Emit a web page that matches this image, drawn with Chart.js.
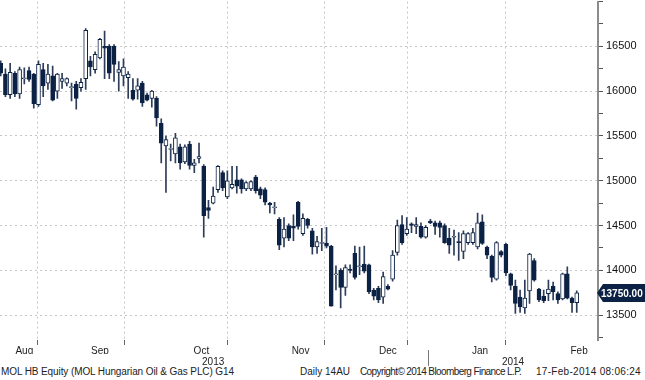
<!DOCTYPE html>
<html><head><meta charset="utf-8">
<script src="https://cdn.jsdelivr.net/npm/chart.js@4/dist/chart.umd.min.js"></script>
<style>
html,body{margin:0;padding:0;background:#fff;width:645px;height:380px;overflow:hidden}
#wrap{position:absolute;left:0;top:-8px;width:645px;height:374px}
#foot{position:absolute;left:0;top:366px;width:645px;height:14px;font:10px "Liberation Sans",Arial,sans-serif;color:#222;white-space:nowrap}
#foot span{position:absolute;top:0}
</style></head><body>
<div id="wrap"><canvas id="c"></canvas></div>
<div id="foot"><span style="left:1px;letter-spacing:-0.1px">MOL HB Equity (MOL Hungarian Oil &amp; Gas PLC) G14</span><span style="left:300px">Daily 14AU</span><span style="left:360px;letter-spacing:-0.6px">Copyright© 2014 Bloomberg Finance L.P.</span><span style="left:536px;letter-spacing:0.3px">17-Feb-2014 08:06:24</span></div>
<script>
// ---- data (daily OHLC, MOL HB Equity, mid-Aug 2013 .. 14-Feb-2014) ----
const opens = [16310,16190,15960,16200,15970,16140,16230,16190,15850,16240,
16090,16170,16000,16110,16090,16040,16080,16040,16140,16340,
16240,16370,16500,16500,16500,16210,16170,16150,16010,16010,
16090,15960,15920,15920,15640,15390,15350,15300,15380,15210,
15410,15170,15250,15160,14700,14750,14900,15090,14820,14920,
15010,15010,14910,14910,15040,14910,14900,14750,14700,14570,
14360,14500,14490,14760,14410,14570,14440,14260,14300,14300,
14270,13950,14000,13810,14010,14190,14040,14070,14060,13780,
13800,13700,13820,13900,14200,14510,14410,14520,14490,14490,
14370,14550,14530,14530,14500,14360,14370,14320,14210,14310,
14310,14260,14540,14260,14160,13900,14210,14290,13960,13820,
13700,13580,13770,14110,13790,13710,13740,13820,13740,13680,
13960,13690,13640];
const highs = [16340,16250,16310,16220,16270,16260,16270,16200,16340,16310,
16300,16280,16200,16200,16150,16090,16110,16140,16700,16390,
16440,16590,16670,16520,16520,16330,16360,16220,16140,16140,
16110,15980,16010,15940,15690,15500,15410,15530,15410,15400,
15440,15240,15420,15180,14780,14930,15170,15110,15110,15160,
15160,15020,14990,15000,15060,14930,14920,14760,14760,14590,
14590,14520,14620,14770,14630,14580,14470,14380,14470,14480,
14280,14050,14020,14060,14060,14270,14260,14270,14070,13800,
13820,13980,13840,14220,14560,14610,14590,14530,14590,14530,
14500,14570,14550,14550,14520,14470,14450,14420,14440,14420,
14470,14640,14620,14270,14170,14320,14220,14300,13970,13890,
13780,13890,14190,14130,13800,13780,13890,13870,13760,13970,
14040,13700,13770];
const lows = [16170,15940,15920,15940,15920,16080,16110,15810,15830,15940,
16020,15890,15920,16030,16060,15890,15800,16000,16020,16170,
16200,16360,16140,16140,16110,16000,16060,15920,15900,15910,
15830,15890,15820,15610,15200,14870,15220,15200,15130,15190,
15130,15090,15200,14370,14580,14740,14870,14890,14800,14910,
14860,14860,14890,14890,14860,14800,14730,14640,14630,14230,
14260,14330,14330,14460,14390,14470,14180,14190,14220,14250,
13600,13780,13580,13720,13970,13900,13950,13970,13740,13670,
13640,13630,13780,13880,14170,14290,14390,14420,14410,14360,
14360,14520,14400,14370,14300,14190,14170,14110,14130,14290,
14290,14240,14290,14130,13870,13890,14150,13940,13780,13520,
13530,13520,13630,13880,13650,13640,13660,13670,13630,13670,
13680,13530,13530];
const closes = [16200,15960,16210,15970,16240,16150,16130,15860,16300,16060,
16190,15900,16190,16140,16140,16050,15920,16100,16680,16270,
16410,16580,16480,16200,16300,16240,16270,16190,15910,16060,
15870,15900,16000,15700,15420,15460,15360,15480,15200,15380,
15170,15200,15270,14610,14670,14830,15160,14920,15000,14960,
14940,14910,14980,14990,14890,14840,14760,14730,14710,14280,
14460,14360,14470,14490,14580,14500,14260,14320,14310,14270,
13600,13960,13810,14030,14000,13920,14050,13990,13760,13710,
13670,13930,13790,14170,14500,14310,14460,14500,14510,14370,
14480,14530,14490,14480,14310,14280,14380,14310,14410,14410,
14420,14530,14300,14170,13920,14310,14170,13970,13830,13630,
13590,13690,14180,13890,13670,13660,13790,13760,13670,13960,
13690,13640,13750];
// trading days shown per month
const monthNames = ['Aug','Sep','Oct','Nov','Dec','Jan','Feb'];
const monthDays  = [11,21,22,20,17,22,10];
const monthYears = [2013,2013,2013,2013,2013,2014,2014];
const yearNames  = ['2013','2014'];
const yTickValues = [13250,13500,13750,14000,14250,14500,14750,15000,15250,15500,15750,16000,16250,16500,16750,17000];
const yLabelValues = [13500,14000,14500,15000,15500,16000,16500];
const Y_MIN = 13222, Y_MAX = 17000;
const X_MIN = -0.15, X_MAX = 126.5;

// ---- derived structures ----
const n = opens.length;
const idx = Array.from({length:n},(_,i)=>i);
const bodies = idx.map(i=>({x:i, y:[Math.min(opens[i],closes[i]), Math.max(opens[i],closes[i])]}));
const wicks  = idx.map(i=>({x:i, y:[Math.min(lows[i],opens[i],closes[i]), Math.max(highs[i],opens[i],closes[i])]}));
const up = idx.map(i=>closes[i]>=opens[i]);
const NAVY = '#0c2245';

const boundaries = [];
const labelPos = {};
let start = -0.5;
monthDays.forEach((d,k)=>{
  const end = start + d;
  const center = (k===monthDays.length-1) ? start + 10 : (start+end)/2;
  labelPos[center] = monthNames[k];
  if (k>0) boundaries.push(start);
  start = end;
});
const boundarySet = new Set(boundaries);
const yearStart = boundaries[monthYears.indexOf(2014)-1];
const yearPos = {};
yearPos[(X_MIN-0.35+yearStart)/2] = yearNames[0];
yearPos[(yearStart+X_MAX)/2] = yearNames[1];

const FONT = {family:'"Liberation Sans", Arial, sans-serif', size:10};

const extras = {
  id:'extras',
  afterDraw(chart){
    const ctx = chart.ctx, ys = chart.scales.y, xs = chart.scales.x;
    const ca = chart.chartArea;
    // year separator
    const bx = Math.round(xs.getPixelForValue(yearStart)) + 0.5;
    ctx.save();
    ctx.strokeStyle = '#777'; ctx.lineWidth = 1;
    ctx.beginPath(); ctx.moveTo(bx, ca.bottom + 10); ctx.lineTo(bx, ca.bottom + 26); ctx.stroke();
    // last price tag
    const v = closes[n-1];
    const y = Math.round(ys.getPixelForValue(v));
    const x0 = ys.left - 1;
    ctx.fillStyle = NAVY;
    ctx.beginPath();
    ctx.moveTo(x0, y); ctx.lineTo(x0+6, y-9); ctx.lineTo(645, y-9);
    ctx.lineTo(645, y+9); ctx.lineTo(x0+6, y+9); ctx.closePath(); ctx.fill();
    ctx.fillStyle = '#fff';
    ctx.font = 'bold 10px "Liberation Sans", Arial, sans-serif';
    ctx.textBaseline = 'middle'; ctx.textAlign = 'left';
    ctx.fillText(v.toFixed(2), x0+4, y+1);
    ctx.restore();
  }
};

new Chart(document.getElementById('c'), {
  type:'bar',
  data:{datasets:[
    {data:bodies, grouped:false, barThickness:4, borderWidth:1, borderSkipped:false,
     backgroundColor: idx.map(i=>up[i]?'#ffffff':NAVY), borderColor: NAVY},
    {data:wicks, grouped:false, barThickness:1, borderWidth:0, backgroundColor:'#2d3c58'}
  ]},
  options:{
    responsive:true, maintainAspectRatio:false, animation:false,
    layout:{padding:0},
    plugins:{legend:{display:false}, tooltip:{enabled:false}},
    events:[],
    scales:{
      x:{type:'linear', min:X_MIN, max:X_MAX, offset:false, position:'bottom', weight:0,
        afterBuildTicks(s){ s.ticks = boundaries.concat(Object.keys(labelPos).map(Number)).sort((a,b)=>a-b).map(v=>({value:v})); },
        afterFit(s){ s.height = 14; },
        grid:{color:c=>(c.tick && boundarySet.has(c.tick.value))?'#c6c6c6':'rgba(0,0,0,0)',
              tickColor:c=>(c.tick && boundarySet.has(c.tick.value))?'#666':'rgba(0,0,0,0)',
              tickLength:5, lineWidth:1},
        border:{display:false, dash:[2,3]},
        ticks:{autoSkip:false, maxRotation:0, minRotation:0, padding:0, color:'#222', font:FONT,
               callback:v=>labelPos[v]||''}
      },
      x2:{type:'linear', min:X_MIN, max:X_MAX, offset:false, position:'bottom', weight:1,
        afterBuildTicks(s){ s.ticks = Object.keys(yearPos).map(Number).map(v=>({value:v})); },
        afterFit(s){ s.height = 12; },
        grid:{display:false, drawTicks:false},
        border:{display:false},
        ticks:{autoSkip:false, maxRotation:0, minRotation:0, padding:2, color:'#222', font:FONT,
               callback:v=>yearPos[v]||''}
      },
      y:{type:'linear', position:'right', min:Y_MIN, max:Y_MAX,
        afterBuildTicks(s){ s.ticks = yTickValues.map(v=>({value:v})); },
        afterFit(s){ s.width = 47; },
        grid:{color:c=>(c.tick && yLabelValues.includes(c.tick.value))?'#c6c6c6':'rgba(0,0,0,0)',
              tickColor:'#555', tickLength:5, lineWidth:1},
        border:{display:true, color:'#8c8c8c', width:2, dash:[2,3]},
        ticks:{autoSkip:false, padding:3, color:'#111', font:{family:FONT.family, size:11},
               callback:v=>yLabelValues.includes(v)?String(v):''}
      }
    }
  },
  plugins:[extras]
});
</script>
</body></html>
